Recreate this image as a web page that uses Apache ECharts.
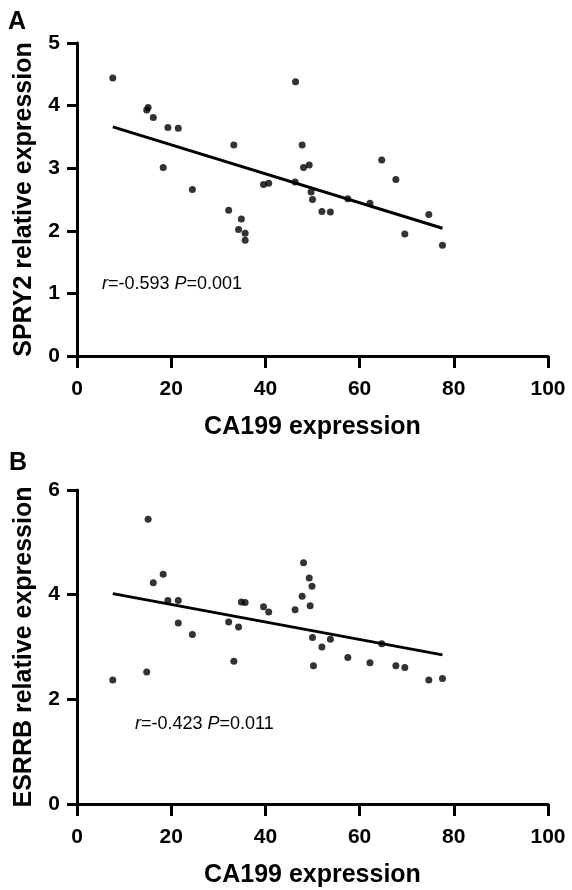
<!DOCTYPE html>
<html>
<head>
<meta charset="utf-8">
<script src="https://cdn.jsdelivr.net/npm/echarts@6/dist/echarts.min.js"></script>
<style>
  html, body { margin: 0; padding: 0; background: #fff; }
  #chart { width: 572px; height: 890px; }
</style>
</head>
<body>
<div id="chart"></div>
<script>
// CA199 vs SPRY2 (panel A)
var spry2Points = [
  [7.6, 4.44], [14.8, 3.93], [15.1, 3.97], [16.2, 3.81], [18.3, 3.01], [19.3, 3.65],
  [21.5, 3.64], [24.5, 2.66], [32.2, 2.33], [33.3, 3.37], [34.3, 2.02], [34.9, 2.19],
  [35.7, 1.96], [35.7, 1.85], [39.6, 2.74], [40.7, 2.76], [46.3, 2.78], [46.4, 4.38],
  [47.8, 3.37], [48.1, 3.01], [49.3, 3.05], [49.7, 2.62], [50.0, 2.50], [52.0, 2.31],
  [53.8, 2.30], [57.5, 2.51], [62.2, 2.44], [64.7, 3.13], [67.7, 2.82], [69.6, 1.95],
  [74.7, 2.26], [77.6, 1.77]
];
var spry2Fit = [[7.6, 3.66], [77.6, 2.04]];

// CA199 vs ESRRB (panel B)
var esrrbPoints = [
  [7.6, 2.37], [14.8, 2.52], [15.1, 5.44], [16.2, 4.23], [18.3, 4.39], [19.3, 3.89],
  [21.5, 3.89], [21.5, 3.46], [24.5, 3.24], [32.2, 3.48], [33.3, 2.73], [34.3, 3.38],
  [34.9, 3.86], [35.7, 3.85], [39.6, 3.77], [40.7, 3.67], [46.3, 3.71], [47.8, 3.97],
  [48.1, 4.61], [49.3, 4.32], [49.5, 3.79], [49.9, 4.16], [50.0, 3.18], [50.2, 2.64],
  [52.0, 3.00], [53.8, 3.15], [57.5, 2.80], [62.2, 2.70], [64.7, 3.06], [67.7, 2.64],
  [69.6, 2.61], [74.7, 2.37], [77.6, 2.40]
];
var esrrbFit = [[7.6, 4.02], [77.6, 2.85]];

var xTitle = "CA199 expression";
var yTitles = ["SPRY2 relative expression", "ESRRB relative expression"];
var statsText = [["-0.593", "0.001"], ["-0.423", "0.011"]];

var FONT = "Arial, 'Liberation Sans', sans-serif";
var chart = echarts.init(document.getElementById("chart"));

function xAxisCfg(idx) {
  return {
    gridIndex: idx, type: "value", min: 0, max: 100, interval: 20,
    name: xTitle, nameLocation: "middle", nameGap: 59,
    nameTextStyle: { fontFamily: FONT, fontWeight: "bold", fontSize: 25, color: "#000" },
    axisLine: { show: true, onZero: false, lineStyle: { color: "#000", width: 3 } },
    axisTick: { show: true, length: 12, lineStyle: { color: "#000", width: 3 } },
    axisLabel: { fontFamily: FONT, fontWeight: "bold", fontSize: 21, color: "#000", margin: 23 },
    splitLine: { show: false }
  };
}
function yAxisCfg(idx, max, interval) {
  return {
    gridIndex: idx, type: "value", min: 0, max: max, interval: interval,
    name: yTitles[idx], nameLocation: "middle", nameGap: 40,
    nameTextStyle: { fontFamily: FONT, fontWeight: "bold", fontSize: 25, color: "#000" },
    axisLine: { show: true, onZero: false, lineStyle: { color: "#000", width: 3 } },
    axisTick: { show: true, length: 10, lineStyle: { color: "#000", width: 3 } },
    axisLabel: { fontFamily: FONT, fontWeight: "bold", fontSize: 21, color: "#000", margin: 17 },
    splitLine: { show: false }
  };
}
function statLabel(i, left, top) {
  return {
    type: "text", left: left, top: top,
    style: {
      text: "{i|r}{n|=" + statsText[i][0] + " }{i|P}{n|=" + statsText[i][1] + "}",
      rich: {
        i: { fontFamily: FONT, fontSize: 18, fontStyle: "italic", fill: "#000" },
        n: { fontFamily: FONT, fontSize: 18, fill: "#000" }
      }
    }
  };
}

chart.setOption({
  animation: false,
  backgroundColor: "#fff",
  grid: [
    { left: 77, right: 24, top: 43, height: 313 },
    { left: 77, right: 24, top: 490, height: 314 }
  ],
  xAxis: [xAxisCfg(0), xAxisCfg(1)],
  yAxis: [yAxisCfg(0, 5, 1), yAxisCfg(1, 6, 2)],
  graphic: [
    { type: "text", left: 8, top: 10, style: { text: "A", font: "bold 25px " + FONT, fill: "#000" } },
    { type: "text", left: 9, top: 451, style: { text: "B", font: "bold 25px " + FONT, fill: "#000" } },
    statLabel(0, 102, 275),
    statLabel(1, 135, 715)
  ],
  series: [
    { type: "scatter", xAxisIndex: 0, yAxisIndex: 0, data: spry2Points, symbolSize: 7, itemStyle: { color: "#000" } },
    { type: "line", xAxisIndex: 0, yAxisIndex: 0, data: spry2Fit, symbol: "none", lineStyle: { color: "#000", width: 3 } },
    { type: "scatter", xAxisIndex: 1, yAxisIndex: 1, data: esrrbPoints, symbolSize: 7, itemStyle: { color: "#000" } },
    { type: "line", xAxisIndex: 1, yAxisIndex: 1, data: esrrbFit, symbol: "none", lineStyle: { color: "#000", width: 3 } }
  ]
});
</script>
</body>
</html>
